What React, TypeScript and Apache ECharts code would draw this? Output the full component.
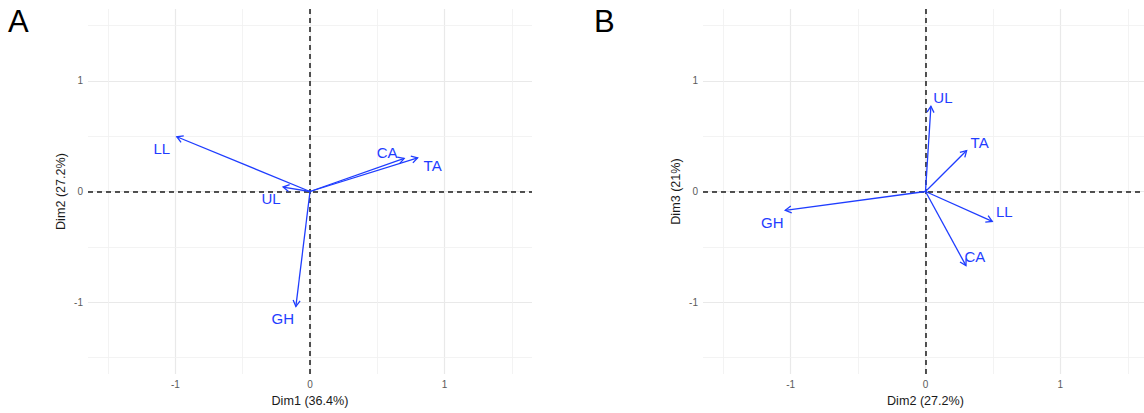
import React, { useEffect, useRef } from "react";
import * as echarts from "echarts";

// Variable loadings on the first three PCA dimensions
const variables = ["LL", "UL", "CA", "TA", "GH"];
const dim1 = [-0.99, -0.2, 0.7, 0.8, -0.105];
const dim2 = [0.495, 0.04, 0.3, 0.305, -1.04];
const dim3 = [-0.27, 0.77, -0.67, 0.37, -0.17];

const dimTitles = ["Dim1 (36.4%)", "Dim2 (27.2%)", "Dim3 (21%)"];
const panelLetters = ["A", "B"];

const tickValues = [-1, 0, 1];
const majorGrid = [-1, 0, 1];
const minorGrid = [-1.5, -0.5, 0.5, 1.5];
const axisMin = -1.65;
const axisMax = 1.65;

// pixel nudges for each variable label (repel-style placement)
const labelNudgeA = [[-15, 12], [-12, 11], [-17, -6], [15, 8], [-13, 12]];
const labelNudgeB = [[12, -10], [12, -9], [9, -9], [13, -8], [-13, 12]];

const ARROW = "#1f3dff";
const FONT = "'Liberation Sans', Arial, Helvetica, sans-serif";

function makeAxis(kind: "x" | "y", idx: number, name: string) {
  return {
    type: "value",
    gridIndex: idx,
    min: axisMin,
    max: axisMax,
    name,
    nameLocation: "middle",
    nameGap: kind === "x" ? 20 : 21,
    nameTextStyle: { color: "#1a1a1a", fontSize: 12.6, fontFamily: FONT },
    axisLine: { show: false },
    axisTick: {
      show: true,
      customValues: tickValues,
      length: 3,
      lineStyle: { color: "#333", width: 1 },
    },
    axisLabel: {
      customValues: tickValues,
      color: "#5a5a5a",
      fontSize: 10,
      fontFamily: FONT,
      margin: 5,
      formatter: (v: number) => String(v),
    },
    splitLine: { show: false },
  };
}

function gridSeries(idx: number) {
  const lines: any[] = [];
  majorGrid.forEach((v) => {
    lines.push({ xAxis: v, lineStyle: { color: "#e9e9e9", width: 1.2, type: "solid" } });
    lines.push({ yAxis: v, lineStyle: { color: "#e9e9e9", width: 1.2, type: "solid" } });
  });
  minorGrid.forEach((v) => {
    lines.push({ xAxis: v, lineStyle: { color: "#f0f0f0", width: 0.8, type: "solid" } });
    lines.push({ yAxis: v, lineStyle: { color: "#f0f0f0", width: 0.8, type: "solid" } });
  });
  return {
    type: "line",
    xAxisIndex: idx,
    yAxisIndex: idx,
    data: [],
    z: 1,
    markLine: {
      silent: true,
      symbol: ["none", "none"],
      label: { show: false },
      data: lines,
      z: 1,
    },
  };
}

function zeroLineSeries(idx: number) {
  const style = { color: "#1a1a1a", width: 1.5, type: [5, 4] };
  return {
    type: "line",
    xAxisIndex: idx,
    yAxisIndex: idx,
    data: [],
    z: 2,
    markLine: {
      silent: true,
      symbol: ["none", "none"],
      label: { show: false },
      data: [
        { xAxis: 0, lineStyle: style },
        { yAxis: 0, lineStyle: style },
      ],
      z: 2,
    },
  };
}

function arrowSeries(idx: number, xs: number[], ys: number[], nudges: number[][]) {
  return {
    type: "custom",
    xAxisIndex: idx,
    yAxisIndex: idx,
    z: 5,
    silent: true,
    data: variables.map((_, i) => [xs[i], ys[i]]),
    renderItem: (params: any, api: any) => {
      const i = params.dataIndex;
      const o = api.coord([0, 0]);
      const p = api.coord([api.value(0), api.value(1)]);
      const ang = Math.atan2(p[1] - o[1], p[0] - o[0]);
      const len = 7;
      const spread = Math.PI / 6;
      const h1 = [p[0] - len * Math.cos(ang - spread), p[1] - len * Math.sin(ang - spread)];
      const h2 = [p[0] - len * Math.cos(ang + spread), p[1] - len * Math.sin(ang + spread)];
      const n = nudges[i];
      return {
        type: "group",
        children: [
          {
            type: "line",
            shape: { x1: o[0], y1: o[1], x2: p[0], y2: p[1] },
            style: { stroke: ARROW, lineWidth: 1.3 },
          },
          {
            type: "polyline",
            shape: { points: [h1, p, h2] },
            style: { stroke: ARROW, lineWidth: 1.3, fill: "none" },
          },
          {
            type: "text",
            x: p[0] + n[0],
            y: p[1] + n[1],
            style: {
              text: variables[i],
              fill: ARROW,
              fontSize: 15,
              fontFamily: FONT,
              align: "center",
              verticalAlign: "middle",
            },
          },
        ],
      };
    },
  };
}

export default function App() {
  const ref = useRef<HTMLDivElement>(null);

  useEffect(() => {
    if (!ref.current) return;
    const chart = echarts.init(ref.current, undefined, { renderer: "svg" });
    chart.setOption({
      animation: false,
      backgroundColor: "#ffffff",
      textStyle: { fontFamily: FONT },
      grid: [
        { left: 88, top: 9, width: 444, height: 365, outerBoundsMode: "none", containLabel: false },
        { left: 703, top: 9, width: 445, height: 365, outerBoundsMode: "none", containLabel: false },
      ],
      xAxis: [makeAxis("x", 0, dimTitles[0]), makeAxis("x", 1, dimTitles[1])],
      yAxis: [makeAxis("y", 0, dimTitles[1]), makeAxis("y", 1, dimTitles[2])],
      graphic: [
        {
          type: "text",
          left: 8,
          top: 6,
          style: { text: panelLetters[0], fontSize: 31, fontFamily: FONT, fill: "#000" },
        },
        {
          type: "text",
          left: 594,
          top: 6,
          style: { text: panelLetters[1], fontSize: 31, fontFamily: FONT, fill: "#000" },
        },
      ],
      series: [
        gridSeries(0),
        gridSeries(1),
        zeroLineSeries(0),
        zeroLineSeries(1),
        arrowSeries(0, dim1, dim2, labelNudgeA),
        arrowSeries(1, dim2, dim3, labelNudgeB),
      ],
    });
    return () => chart.dispose();
  }, []);

  return (
    <div
      ref={ref}
      style={{ position: "absolute", left: 0, top: 0, width: 1144, height: 413, background: "#fff" }}
    />
  );
}
